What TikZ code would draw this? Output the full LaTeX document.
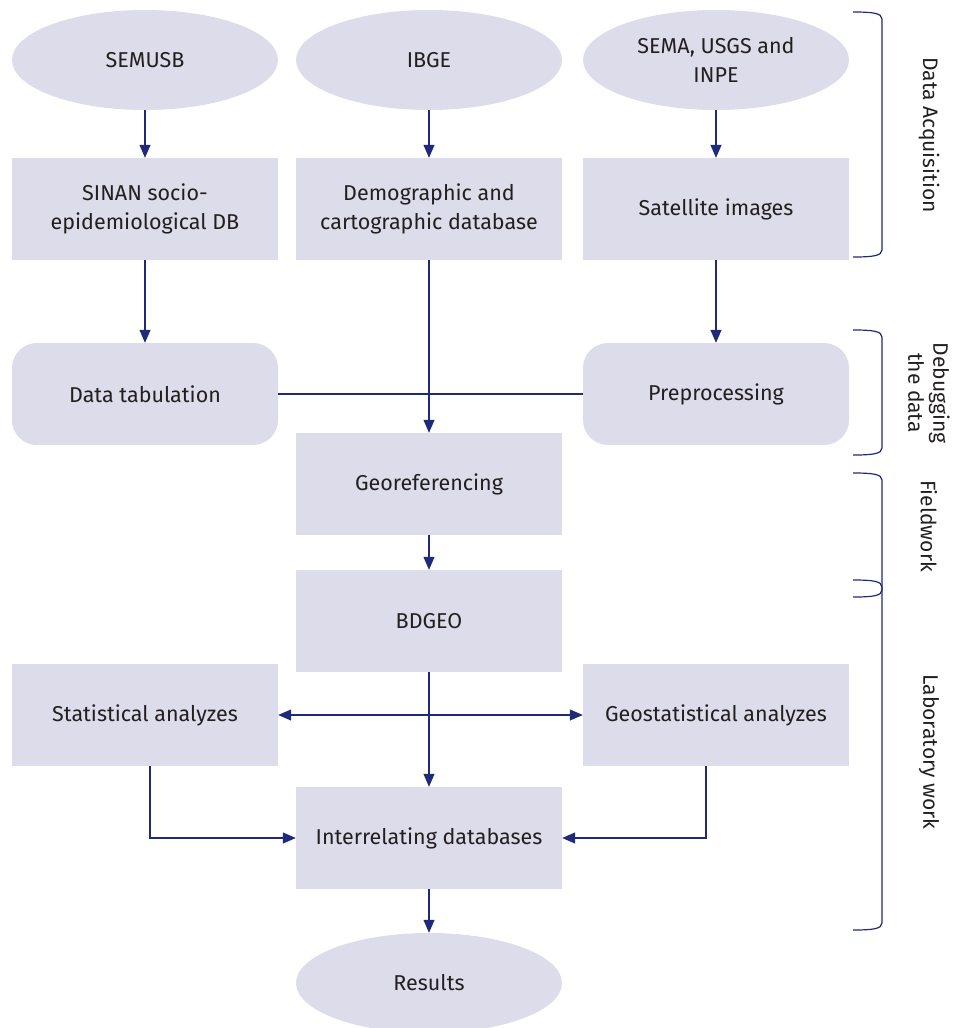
\documentclass[tikz,border=0pt]{standalone}
\usepackage{fontspec}
\setmainfont{Fira Sans}
\usetikzlibrary{shapes.geometric,arrows.meta}
\definecolor{boxfill}{HTML}{DCDCEA}
\definecolor{arrcol}{HTML}{1F2A78}
\definecolor{txtcol}{HTML}{231F20}
\tikzset{
  src/.style={ellipse,fill=boxfill,minimum width=266pt,minimum height=100pt,inner sep=0pt,
    align=center,text=txtcol,font=\fontsize{21.5}{29}\selectfont},
  box/.style={rectangle,fill=boxfill,minimum width=266pt,minimum height=102pt,inner sep=0pt,
    align=center,text=txtcol,font=\fontsize{21.5}{29}\selectfont},
  rbox/.style={box,rounded corners=25pt},
  tip/.style={Triangle[length=13pt,width=11pt]},
  arr/.style={draw=arrcol,line width=1.2pt,-{Triangle[length=13pt,width=11pt]}},
  dblarr/.style={draw=arrcol,line width=1.2pt,{Triangle[length=13pt,width=11pt]}-{Triangle[length=13pt,width=11pt]}},
  link/.style={draw=arrcol,line width=1.2pt},
  phasebrace/.style={draw=arrcol,line width=1.2pt},
  phase/.style={rotate=-90,align=center,text=txtcol,font=\fontsize{21}{25}\selectfont}
}
\newcommand{\phasebr}[2]{%
  \draw[phasebrace] (853,#1) .. controls (872,#1) and (882,#1+1) .. (882,#1+7)
    -- (882,#2-7) .. controls (882,#2-1) and (872,#2) .. (853,#2);}
\begin{document}
\begin{tikzpicture}[x=1pt,y=-1pt]
\useasboundingbox (0,0) rectangle (955,1028);
%
\node[src] (semusb) at (145,60) {SEMUSB};
\node[src] (ibge) at (429,60) {IBGE};
\node[src] (sema) at (716,60) {SEMA, USGS and\\INPE};
%
\node[box] (sinan) at (145,209) {SINAN socio-\\epidemiological DB};
\node[box] (demo) at (429,209) {Demographic and\\cartographic database};
\node[box] (sat) at (716,209) {Satellite images};
%
\node[rbox] (tab) at (145,394) {Data tabulation};
\node[rbox] (prep) at (716,394) {Preprocessing};
\node[box] (geore) at (429,484) {Georeferencing};
\node[box] (bdgeo) at (429,621) {BDGEO};
%
\node[box] (stat) at (145,715) {Statistical analyzes};
\node[box] (geostat) at (716,715) {Geostatistical analyzes};
\node[box] (inter) at (429,838) {Interrelating databases};
\node[src] (res) at (429,983) {Results};
%
\draw[arr] (semusb) -- (sinan);
\draw[arr] (ibge) -- (demo);
\draw[arr] (sema) -- (sat);
\draw[arr] (sinan) -- (tab);
\draw[arr] (sat) -- (prep);
\draw[link] (tab) -- (prep);
\draw[arr] (demo) -- (geore);
\draw[arr] (geore) -- (bdgeo);
\draw[arr] (bdgeo) -- (inter);
\draw[dblarr] (stat) -- (geostat);
\draw[arr] ([xshift=5pt]stat.south) |- (inter);
\draw[arr] ([xshift=-10pt]geostat.south) |- (inter);
\draw[arr] (inter) -- (res);
%===========================
\phasebr{12}{257}
\node[phase] (acq) at (929,135) {Data Acquisition};
\phasebr{330}{455}
\node[phase] (debug) at (929,393) {Debugging\\the data};
\phasebr{473}{597}
\node[phase] (field) at (929,526) {Fieldwork};
\phasebr{580}{930}
\node[phase] (lab) at (929,752) {Laboratory work};
\end{tikzpicture}
\end{document}
